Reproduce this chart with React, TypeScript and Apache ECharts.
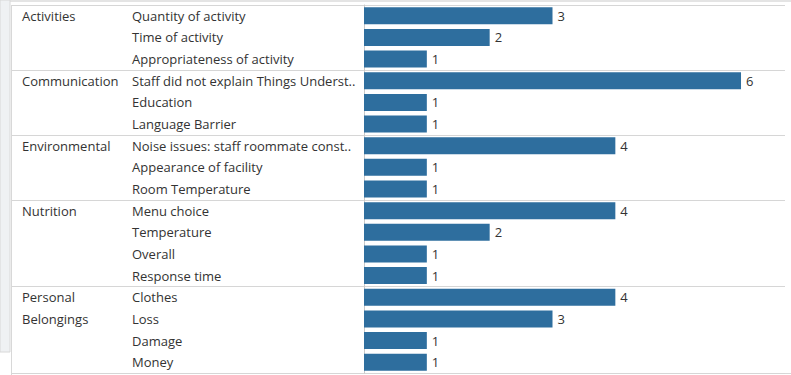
import React, { useEffect, useRef } from "react";
import * as echarts from "echarts";

const groups: string[][] = [
  ["Activities"],
  ["Communication"],
  ["Environmental"],
  ["Nutrition"],
  ["Personal", "Belongings"],
];
const groupSizes: number[] = [3, 3, 3, 4, 4];
const subcategories: string[] = [
  "Quantity of activity",
  "Time of activity",
  "Appropriateness of activity",
  "Staff did not explain Things Underst..",
  "Education",
  "Language Barrier",
  "Noise issues: staff roommate const..",
  "Appearance of facility",
  "Room Temperature",
  "Menu choice",
  "Temperature",
  "Overall",
  "Response time",
  "Clothes",
  "Loss",
  "Damage",
  "Money",
];
const counts: number[] = [3, 2, 1, 6, 1, 1, 4, 1, 1, 4, 2, 1, 1, 4, 3, 1, 1];

const FONT = "'Open Sans', 'Noto Sans', sans-serif";
const TEXT = "#333333";
const BAR = "#2e6e9e";
const SEP = "#d6d6d6";
const FS = 13;

export default function App() {
  const ref = useRef<HTMLDivElement>(null);
  useEffect(() => {
    if (!ref.current) return;
    const chart = echarts.init(ref.current, undefined, { renderer: "svg" });

    // row index -> group label line
    const groupLabelByRow: string[] = subcategories.map(() => "");
    const boundaries = new Set<number>();
    let start = 0;
    groups.forEach((lines, g) => {
      lines.forEach((ln, k) => {
        groupLabelByRow[start + k] = ln;
      });
      boundaries.add(start);
      start += groupSizes[g];
    });
    boundaries.add(start);

    const sepInterval = (index: number) => boundaries.has(index);

    chart.setOption({
      animation: false,
      backgroundColor: "#ffffff",
      grid: { left: 364, right: 6, top: 5, bottom: 2, containLabel: false },
      xAxis: {
        type: "value",
        min: 0,
        max: 6.7,
        show: false,
      },
      yAxis: [
        {
          type: "category",
          data: subcategories,
          inverse: true,
          position: "left",
          axisLine: { show: true, lineStyle: { color: "#c9c9c9", width: 1 } },
          axisTick: {
            show: true,
            length: 352,
            interval: sepInterval,
            lineStyle: { color: SEP, width: 1 },
          },
          splitLine: {
            show: true,
            interval: sepInterval,
            lineStyle: { color: SEP, width: 1 },
          },
          axisLabel: {
            interval: 0,
            align: "left",
            margin: 232,
            color: TEXT,
            fontSize: FS,
            fontFamily: FONT,
          },
        },
        {
          type: "category",
          data: subcategories,
          inverse: true,
          position: "left",
          axisLine: { show: false },
          axisTick: { show: false },
          splitLine: { show: false },
          axisLabel: {
            interval: 0,
            align: "left",
            margin: 342,
            color: TEXT,
            fontSize: FS,
            fontFamily: FONT,
            formatter: (_v: string, i: number) => groupLabelByRow[i],
          },
        },
      ],
      series: [
        {
          type: "bar",
          yAxisIndex: 0,
          data: counts,
          barWidth: 17,
          itemStyle: { color: BAR },
          label: {
            show: true,
            position: "right",
            distance: 5,
            color: TEXT,
            fontSize: FS,
            fontFamily: FONT,
          },
        },
      ],
      graphic: [
        { type: "rect", shape: { x: 0, y: 0, width: 791, height: 2 }, style: { fill: "#e4e4e4" }, silent: true },
        { type: "rect", shape: { x: 0, y: 0, width: 10, height: 352 }, style: { fill: "#eff1f3", stroke: "#d8d8d8", lineWidth: 1 }, silent: true },
        { type: "line", shape: { x1: 11.5, y1: 5, x2: 11.5, y2: 375 }, style: { stroke: "#d8d8d8", lineWidth: 1 }, silent: true },
        { type: "line", shape: { x1: 12, y1: 373.5, x2: 791, y2: 373.5 }, style: { stroke: "#d8d8d8", lineWidth: 1 }, silent: true },
      ],
    });
    return () => chart.dispose();
  }, []);
  return (
    <div
      ref={ref}
      style={{ position: "fixed", left: 0, top: 0, width: 791, height: 375 }}
    />
  );
}
